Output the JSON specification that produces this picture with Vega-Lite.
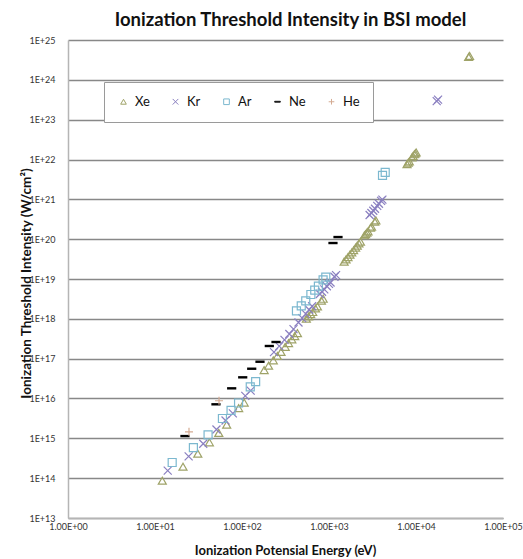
{
  "$schema": "https://vega.github.io/schema/vega-lite/v6.json",
  "autosize": {"type": "none"},
  "padding": {"left": 68, "top": 40, "right": 20, "bottom": 41},
  "width": 435,
  "height": 478,
  "background": "white",
  "title": {"text": "Ionization Threshold Intensity in BSI model", "font": "Lato", "fontSize": 18.5, "fontWeight": "bold", "color": "#111", "anchor": "middle", "dx": 5, "offset": 7},
  "data": {"values": [
    {"s":"Xe","e":12.13,"i":8.66e13},{"s":"Xe","e":20.98,"i":1.94e14},{"s":"Xe","e":31.05,"i":4.13e14},{"s":"Xe","e":42.2,"i":7.93e14},
    {"s":"Xe","e":54.1,"i":1.37e15},{"s":"Xe","e":66.7,"i":2.2e15},{"s":"Xe","e":91.6,"i":5.75e15},{"s":"Xe","e":106,"i":7.89e15},
    {"s":"Xe","e":179.8,"i":5.17e16},{"s":"Xe","e":202,"i":6.66e16},{"s":"Xe","e":229,"i":9.09e16},{"s":"Xe","e":255,"i":1.17e17},
    {"s":"Xe","e":281,"i":1.48e17},{"s":"Xe","e":314,"i":1.98e17},{"s":"Xe","e":343,"i":2.46e17},{"s":"Xe","e":374,"i":3.06e17},
    {"s":"Xe","e":404,"i":3.69e17},{"s":"Xe","e":434,"i":4.38e17},{"s":"Xe","e":549,"i":1.01e18},{"s":"Xe","e":582,"i":1.15e18},
    {"s":"Xe","e":616,"i":1.31e18},{"s":"Xe","e":650,"i":1.48e18},{"s":"Xe","e":700,"i":1.82e18},{"s":"Xe","e":736,"i":2.04e18},
    {"s":"Xe","e":818,"i":2.87e18},{"s":"Xe","e":857,"i":3.19e18},{"s":"Xe","e":1493,"i":2.73e19},{"s":"Xe","e":1571,"i":3.11e19},
    {"s":"Xe","e":1653,"i":3.55e19},{"s":"Xe","e":1742,"i":4.09e19},{"s":"Xe","e":1826,"i":4.63e19},{"s":"Xe","e":1919,"i":5.3e19},
    {"s":"Xe","e":2023,"i":6.15e19},{"s":"Xe","e":2113,"i":6.9e19},{"s":"Xe","e":2209,"i":7.78e19},{"s":"Xe","e":2300,"i":8.64e19},
    {"s":"Xe","e":2556,"i":1.25e20},{"s":"Xe","e":2637,"i":1.34e20},{"s":"Xe","e":2726,"i":1.45e20},{"s":"Xe","e":2811,"i":1.56e20},
    {"s":"Xe","e":3000,"i":1.93e20},{"s":"Xe","e":3083,"i":2.05e20},{"s":"Xe","e":3359,"i":2.75e20},{"s":"Xe","e":3460,"i":2.96e20},
    {"s":"Xe","e":7889,"i":7.65e21},{"s":"Xe","e":8144,"i":8.31e21},{"s":"Xe","e":8382,"i":8.94e21},{"s":"Xe","e":8971,"i":1.12e22},
    {"s":"Xe","e":9243,"i":1.22e22},{"s":"Xe","e":9581,"i":1.35e22},{"s":"Xe","e":9810,"i":1.42e22},{"s":"Xe","e":10039,"i":1.5e22},
    {"s":"Xe","e":40272,"i":3.75e24},{"s":"Xe","e":41300,"i":3.99e24},
    {"s":"Kr","e":14.0,"i":1.54e14},{"s":"Kr","e":24.36,"i":3.52e14},{"s":"Kr","e":35.84,"i":7.33e14},{"s":"Kr","e":50.85,"i":1.67e15},
    {"s":"Kr","e":64.69,"i":2.8e15},{"s":"Kr","e":78.49,"i":4.22e15},{"s":"Kr","e":109.1,"i":1.16e16},{"s":"Kr","e":125.8,"i":1.57e16},
    {"s":"Kr","e":233,"i":1.46e17},{"s":"Kr","e":268,"i":2.06e17},{"s":"Kr","e":308,"i":2.97e17},{"s":"Kr","e":350,"i":4.17e17},
    {"s":"Kr","e":391,"i":5.53e17},{"s":"Kr","e":446,"i":8.08e17},{"s":"Kr","e":492,"i":1.04e18},{"s":"Kr","e":540,"i":1.33e18},
    {"s":"Kr","e":591,"i":1.69e18},{"s":"Kr","e":640,"i":2.07e18},{"s":"Kr","e":785,"i":4.21e18},{"s":"Kr","e":831.6,"i":4.78e18},
    {"s":"Kr","e":882.8,"i":5.51e18},{"s":"Kr","e":945,"i":6.59e18},{"s":"Kr","e":999,"i":7.53e18},{"s":"Kr","e":1042,"i":8.19e18},
    {"s":"Kr","e":1155,"i":1.14e19},{"s":"Kr","e":1205,"i":1.25e19},{"s":"Kr","e":2929,"i":4.04e20},{"s":"Kr","e":3072,"i":4.54e20},
    {"s":"Kr","e":3228,"i":5.16e20},{"s":"Kr","e":3380,"i":5.8e20},{"s":"Kr","e":3584,"i":6.87e20},{"s":"Kr","e":3752,"i":7.74e20},
    {"s":"Kr","e":3971,"i":9.13e20},{"s":"Kr","e":4109,"i":9.87e20},{"s":"Kr","e":17296,"i":2.92e23},{"s":"Kr","e":17936,"i":3.19e23},
    {"s":"Ar","e":15.76,"i":2.47e14},{"s":"Ar","e":27.63,"i":5.83e14},{"s":"Ar","e":40.74,"i":1.22e15},{"s":"Ar","e":59.58,"i":3.15e15},
    {"s":"Ar","e":74.84,"i":5.02e15},{"s":"Ar","e":91.29,"i":7.72e15},{"s":"Ar","e":124.4,"i":1.96e16},{"s":"Ar","e":143.5,"i":2.65e16},
    {"s":"Ar","e":422.6,"i":1.58e18},{"s":"Ar","e":479.8,"i":2.12e18},{"s":"Ar","e":540.4,"i":2.82e18},{"s":"Ar","e":619,"i":4.08e18},
    {"s":"Ar","e":685.5,"i":5.23e18},{"s":"Ar","e":755.1,"i":6.63e18},{"s":"Ar","e":855.5,"i":9.52e18},{"s":"Ar","e":918.4,"i":1.11e19},
    {"s":"Ar","e":4121,"i":3.99e21},{"s":"Ar","e":4426,"i":4.74e21},
    {"s":"Ne","e":22.1,"i":1.14e15},{"s":"Ne","e":50.2,"i":7.15e15},{"s":"Ne","e":76.1,"i":1.8e16},{"s":"Ne","e":101.9,"i":3.4e16},
    {"s":"Ne","e":129.3,"i":5.59e16},{"s":"Ne","e":161,"i":8.37e16},{"s":"Ne","e":206,"i":2.08e17},{"s":"Ne","e":246,"i":2.62e17},
    {"s":"Ne","e":1111,"i":8.0e19},{"s":"Ne","e":1269,"i":1.13e20},
    {"s":"He","e":24.59,"i":1.46e15},{"s":"He","e":54.42,"i":8.77e15}
  ]},
  "mark": {"type": "point", "filled": false, "strokeWidth": 1.2, "opacity": 1, "size": 64},
  "encoding": {
    "x": {"field": "e", "type": "quantitative",
      "scale": {"type": "log", "domain": [1, 100000], "nice": false},
      "axis": {"values": [1, 10, 100, 1000, 10000, 100000], "labelExpr": "'1.00E+0' + round(log(datum.value)/LN10)",
        "grid": false, "ticks": false, "domainColor": "#b5b5b5", "domainWidth": 1.5,
        "labelFont": "Lato", "labelFontSize": 9, "labelColor": "#333", "labelPadding": 4, "labelFlush": false, "labelOverlap": false,
        "title": "Ionization Potensial Energy (eV)", "titleFont": "Lato", "titleFontSize": 13, "titleFontWeight": "bold", "titleColor": "#111",
        "titleX": 217, "titleY": 32, "titleBaseline": "middle", "titleAlign": "center"}},
    "y": {"field": "i", "type": "quantitative",
      "scale": {"type": "log", "domain": [1e13, 1e25], "nice": false},
      "axis": {"values": [1e13,1e14,1e15,1e16,1e17,1e18,1e19,1e20,1e21,1e22,1e23,1e24,1e25], "labelExpr": "'1E+' + round(log(datum.value)/LN10)",
        "grid": true, "gridColor": "#888888", "gridWidth": 1.4, "ticks": false, "domainColor": "#b5b5b5", "domainWidth": 1.5,
        "labelFont": "Lato", "labelFontSize": 9, "labelColor": "#333", "labelPadding": 13, "labelFlush": false, "labelOverlap": false,
        "title": "Ionization Threshold Intensity (W/cm²)", "titleFont": "Lato", "titleFontSize": 13.5, "titleFontWeight": "bold", "titleColor": "#111",
        "titleX": -42, "titleY": 243, "titleAngle": 270, "titleBaseline": "middle", "titleAlign": "center"}},
    "color": {"field": "s", "type": "nominal",
      "scale": {"domain": ["Xe", "Kr", "Ar", "Ne", "He"], "range": ["#9fa368", "#8a7fc0", "#7cb8cf", "#000000", "#d4ab93"]},
      "legend": {"title": null, "orient": "none", "legendX": 36, "legendY": 42, "direction": "horizontal",
        "fillColor": "white", "strokeColor": "#9a9a9a", "padding": 13, "labelFont": "Lato", "labelFontSize": 13, "labelColor": "#111",
        "symbolSize": 32, "symbolStrokeWidth": 1, "columnPadding": 19, "labelOffset": 5}},
    "shape": {"field": "s", "type": "nominal",
      "scale": {"domain": ["Xe", "Kr", "Ar", "Ne", "He"], "range": ["triangle-up", "M-1,-1L1,1M-1,1L1,-1", "square", "M-1,-0.15H1V0.15H-1Z", "M-1,0H1M0,-1V1"]}}
  },
  "config": {"view": {"stroke": null}}
}
